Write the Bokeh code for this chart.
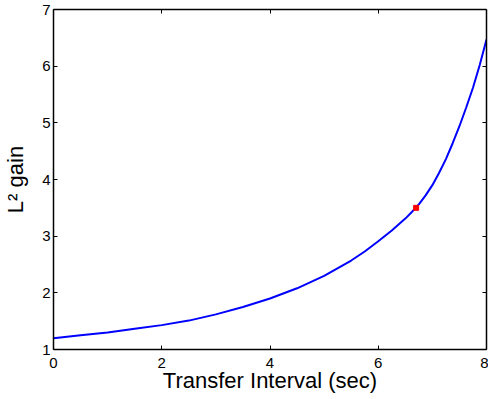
from bokeh.plotting import figure
from bokeh.models import LinearAxis, Range1d, FixedTicker
from bokeh.embed import file_html
from bokeh.resources import INLINE

# Data
interval_sec = [0, 0.5, 1, 1.5, 2, 2.5, 3, 3.5, 4, 4.5, 5, 5.5, 5.75, 6, 6.25,
                6.5, 6.625, 6.75, 6.875, 7, 7.125, 7.25, 7.375, 7.5, 7.625,
                7.75, 7.875, 8]
l2_gain = [1.20, 1.25, 1.30, 1.365, 1.43, 1.51, 1.62, 1.75, 1.90, 2.08, 2.30,
           2.57, 2.73, 2.91, 3.10, 3.31, 3.43, 3.56, 3.72, 3.90, 4.12, 4.36,
           4.64, 4.94, 5.27, 5.62, 6.02, 6.47]
marker_x = [6.7]
marker_y = [3.5]
x_ticks = [0, 2, 4, 6, 8]
y_ticks = [1, 2, 3, 4, 5, 6, 7]

FONT = "Liberation Sans"

p = figure(width=488, height=399, x_range=Range1d(0, 8), y_range=Range1d(1, 7),
           output_backend="svg", toolbar_location=None,
           min_border_left=53, min_border_right=2, min_border_top=9,
           min_border_bottom=50)
p.outline_line_color = None
p.xgrid.visible = False
p.ygrid.visible = False
p.background_fill_color = "white"
p.border_fill_color = "white"

p.line(interval_sec, l2_gain, line_color="#0000ff", line_width=2)
p.scatter(marker_x, marker_y, marker="square", size=5, fill_color="red",
          line_color="red")

def style(ax, ticks, labels=True):
    ax.ticker = FixedTicker(ticks=ticks)
    ax.minor_tick_line_color = None
    ax.major_tick_in = 4
    ax.major_tick_out = 0
    ax.axis_line_width = 1.5
    ax.axis_line_color = "black"
    ax.major_tick_line_color = "black"
    ax.major_label_text_font = FONT
    if labels:
        ax.major_label_text_font_size = "15px"
        ax.major_label_text_color = "black"
    else:
        ax.major_label_text_font_size = "1px"
        ax.major_label_text_color = None
        ax.major_label_standoff = 0

xa = p.xaxis[0]
ya = p.yaxis[0]
style(xa, x_ticks)
style(ya, y_ticks)
xa.major_label_standoff = 8
ya.major_label_standoff = 3
xa.axis_label = "Transfer Interval (sec)"
ya.axis_label = "L\u00b2 gain"
for ax in (xa, ya):
    ax.axis_label_text_font = FONT
    ax.axis_label_text_font_size = "22px"
    ax.axis_label_text_font_style = "normal"
    ax.axis_label_text_color = "black"
xa.axis_label_standoff = -3
ya.axis_label_standoff = 11

top = LinearAxis()
style(top, x_ticks, labels=False)
p.add_layout(top, "above")
right = LinearAxis()
style(right, y_ticks, labels=False)
p.add_layout(right, "right")

open("out.html", "w").write(file_html(p, INLINE))
